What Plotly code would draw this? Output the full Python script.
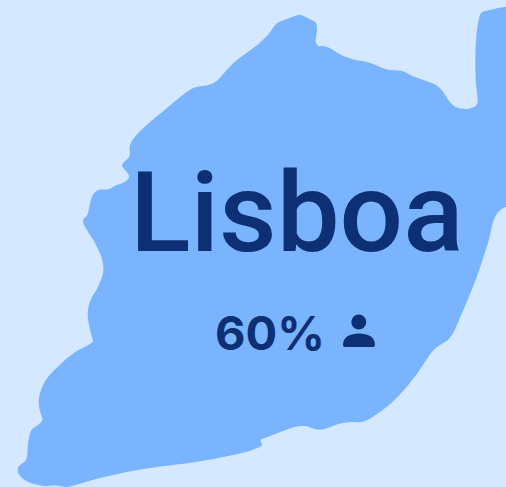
import plotly.graph_objects as go

region_name = "Lisboa"
share_label = "60%"

outline_x = [530, 486.3, 481.3, 478.7, 476.3, 475.3, 475.7, 477.3, 474.7, 466.3, 456.3, 449.7, 443, 436.3, 426.3, 413, 403, 394.7, 386.3, 369.7, 353, 341.3, 331.3, 324.7, 318, 315.7, 317, 315.7, 308, 300.3, 294.7, 286.3, 277, 268, 259.7, 253, 235, 226.7, 216.7, 208.3, 195, 185, 166.7, 146.7, 135, 130, 129.3, 123.3, 122, 126.7, 129, 125, 115, 108.3, 98.3, 92.7, 89.3, 87.3, 83, 95, 101.7, 103.3, 98.3, 90, 87.7, 90, 92.7, 90, 75, 58.3, 45, 38.7, 40, 42.3, 38.3, 31.7, 28.3, 26, 18.3, 18.3, 25, 41.7, 58.3, 65, 71.7, 100, 143.3, 200, 253, 262, 260.7, 269.7, 294.7, 304.7, 319.7, 339.7, 351.3, 363, 383, 399.7, 416.3, 434.7, 449.7, 461.3, 476.3, 488, 497.3, 530, 530]
outline_y = [10.7, 10.7, 12.7, 20, 36.7, 56.7, 80, 103.3, 106.7, 109, 107.3, 101.7, 91.7, 85.3, 81, 76.3, 71.3, 70.3, 69.3, 62.7, 59.3, 55, 49, 46.3, 45.7, 41.7, 30, 22.7, 18.3, 15, 16, 19.3, 23.3, 35, 42.7, 48.3, 61.7, 70, 81, 85, 87.3, 93.3, 108.3, 125, 136.7, 145, 156.7, 162.7, 166, 171.7, 176.7, 181.7, 185.7, 189.3, 190, 195, 206.7, 215, 220.7, 243, 258, 271.3, 286.3, 301.3, 314.7, 329.7, 341.3, 344, 352.3, 366.3, 381.3, 399.7, 411.3, 419.7, 424.7, 429.7, 441.3, 459.7, 467, 473, 480.3, 485.7, 485.7, 487, 486, 478, 469, 461.3, 449.7, 444.7, 440.3, 436.3, 427, 426, 429.7, 423.7, 422, 421.7, 409.7, 394.7, 374.7, 349, 338, 314.7, 278, 243, 213.3, 190, 10.7]

BG = "#D4E8FF"
LAND = "#7AB4FF"
INK = "#0D2F73"

fig = go.Figure()
fig.add_trace(go.Scatter(x=outline_x, y=outline_y, mode="lines", fill="toself",
                         fillcolor=LAND, line=dict(color=LAND, width=0, shape="spline", smoothing=1.0),
                         hoverinfo="skip", showlegend=False))
fig.add_annotation(x=297, y=250, yanchor="bottom", xanchor="center", yshift=-30, text=region_name,
                   showarrow=False, font=dict(family="Roboto", size=112, weight=500, color=INK))
fig.add_annotation(x=269.5, y=350, xanchor="center", yanchor="bottom", yshift=-13, text=share_label,
                   showarrow=False, font=dict(family="Inter", size=47, weight=700, color=INK))
# person icon
fig.add_shape(type="circle", x0=351.3, x1=366.3, y0=314.5, y1=329.5, fillcolor=INK, line_width=0)
fig.add_shape(type="path", path="M343,345 C343,337 350,333.5 359,333.5 C368,333.5 375,337 375,345 Q375,347 373,347 L345,347 Q343,347 343,345 Z",
              fillcolor=INK, line_width=0)
fig.update_xaxes(range=[0, 506], visible=False, fixedrange=True)
fig.update_yaxes(range=[487, 0], visible=False, fixedrange=True)
fig.update_layout(width=506, height=487, margin=dict(l=0, r=0, t=0, b=0),
                  paper_bgcolor=BG, plot_bgcolor=BG)
fig.write_html("out.html", config={"displayModeBar": False},
               post_script="document.body.style.margin='0';document.body.style.overflow='hidden';document.documentElement.style.background='#D4E8FF';")
